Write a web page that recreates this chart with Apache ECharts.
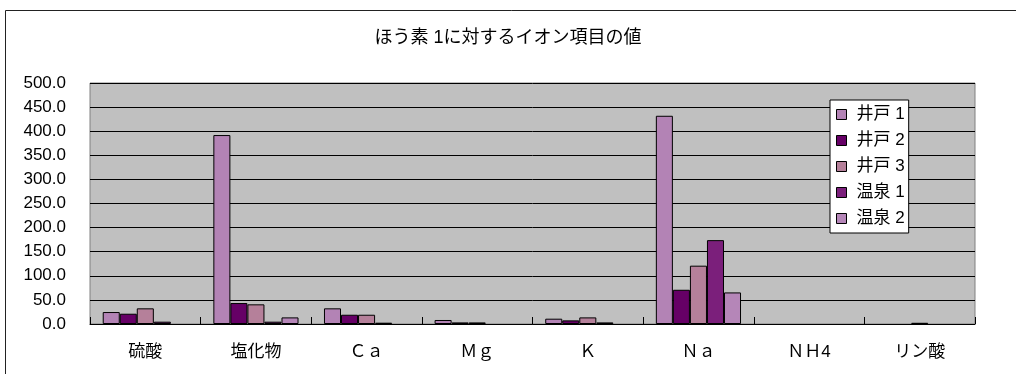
<!DOCTYPE html>
<html>
<head>
<meta charset="utf-8">
<script src="https://cdn.jsdelivr.net/npm/echarts@6/dist/echarts.min.js"></script>
<style>
html,body{margin:0;padding:0;background:#fff;}
#chart{width:1016px;height:374px;}
</style>
</head>
<body>
<div id="chart"></div>
<script>
var titleText = 'ほう素 1に対するイオン項目の値';
var categories = ['硫酸', '塩化物', 'Ｃａ', 'Ｍｇ', 'Ｋ', 'Ｎａ', 'ＮＨ4', 'リン酸'];
var seriesNames = ['井戸 1', '井戸 2', '井戸 3', '温泉 1', '温泉 2'];
var ido1 = [24.8, 392, 32.5, 8.3, 11, 432, null, null];
var ido2 = [21.3, 43.5, 19.2, 3.3, 7.5, 71, null, null];
var ido3 = [32.5, 40.8, 19.2, 3.3, 13.7, 121, null, 2.5];
var onsen1 = [4.8, 4.8, 2.7, null, 3.3, 174, null, null];
var onsen2 = [null, 13.7, null, null, null, 65.5, null, null];
var seriesData = [ido1, ido2, ido3, onsen1, onsen2];
var colors = ['#B383B5', '#660066', '#B5809A', '#7B1F7B', '#B586B8'];

var FONT = "'Liberation Sans', 'Noto Sans CJK JP', sans-serif";
var chart = echarts.init(document.getElementById('chart'), null, {renderer: 'canvas'});
var series = seriesNames.map(function (n, i) {
  return {
    name: n,
    type: 'bar',
    data: seriesData[i].map(function (v) { return v === null ? '-' : v; }),
    barGap: '0%',
    barCategoryGap: '23%',
    itemStyle: {color: colors[i], borderColor: '#000', borderWidth: 1},
    emphasis: {disabled: true},
    animation: false
  };
});
chart.setOption({
  animation: false,
  backgroundColor: '#fff',
  color: colors,
  title: {
    text: titleText,
    left: 'center',
    top: 24,
    textStyle: {fontFamily: FONT, fontSize: 18, fontWeight: 'normal', color: '#000'}
  },
  graphic: [{
    type: 'rect',
    shape: {x: 5.5, y: 10.5, width: 1030, height: 400},
    style: {fill: 'none', stroke: '#222', lineWidth: 1},
    silent: true
  }],
  legend: {
    orient: 'vertical',
    left: 830,
    top: 100,
    padding: [6, 4, 6, 6],
    itemGap: 9,
    itemWidth: 10,
    itemHeight: 10,
    backgroundColor: '#fff',
    borderColor: '#000',
    borderWidth: 1,
    itemStyle: {borderColor: '#000', borderWidth: 1},
    textStyle: {fontFamily: FONT, fontSize: 17, color: '#000', lineHeight: 17, padding: [0, 0, 0, 5]},
    data: seriesNames.map(function (n) { return {name: n, icon: 'rect'}; })
  },
  grid: {
    left: 90, right: 41, top: 83, bottom: 50,
    show: true, backgroundColor: '#C0C0C0', borderColor: '#808080', borderWidth: 1
  },
  xAxis: {
    type: 'category',
    data: categories,
    axisLine: {lineStyle: {color: '#000', width: 1}},
    axisTick: {show: true, inside: true, length: 7, lineStyle: {color: '#000'}},
    axisLabel: {fontFamily: FONT, fontSize: 17, color: '#000', margin: 20}
  },
  yAxis: {
    type: 'value',
    min: 0, max: 500, interval: 50,
    axisLine: {show: false},
    axisTick: {show: false},
    axisLabel: {
      fontFamily: FONT, fontSize: 17, color: '#000', margin: 24,
      formatter: function (v) { return v.toFixed(1); }
    },
    splitLine: {lineStyle: {color: '#000', width: 1}}
  },
  series: series
});
</script>
</body>
</html>
